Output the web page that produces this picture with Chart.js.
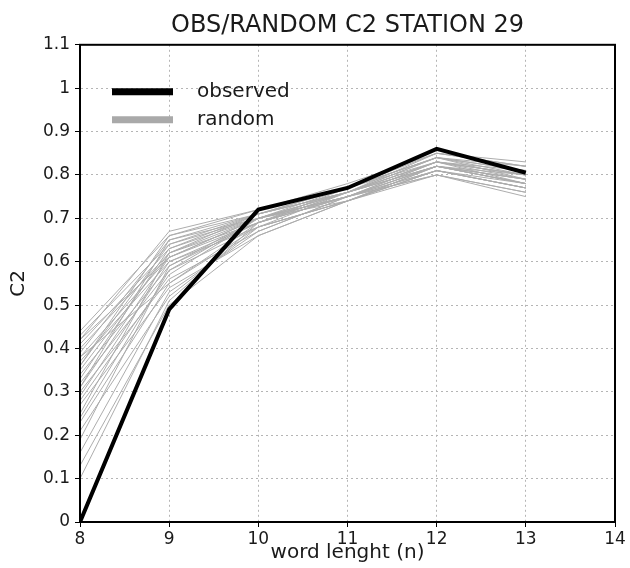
<!DOCTYPE html>
<html>
<head>
<meta charset="utf-8">
<script src="https://cdn.jsdelivr.net/npm/chart.js@4"></script>
<style>
  html, body { margin: 0; padding: 0; background: #fff; }
  #chart { display: block; }
</style>
</head>
<body>
<canvas id="chart" width="630" height="568"></canvas>
<script>
// word length n
const wordLength = [8, 9, 10, 11, 12, 13];

const observed = [0.00, 0.49, 0.72, 0.77, 0.86, 0.805];

// surrogate (random) runs
const randomRuns = [
  [0.44, 0.66, 0.71, 0.77, 0.84, 0.80],
  [0.43, 0.64, 0.70, 0.76, 0.83, 0.79],
  [0.42, 0.67, 0.72, 0.78, 0.85, 0.82],
  [0.41, 0.63, 0.70, 0.75, 0.82, 0.78],
  [0.40, 0.62, 0.69, 0.76, 0.83, 0.81],
  [0.39, 0.65, 0.71, 0.77, 0.84, 0.79],
  [0.38, 0.61, 0.70, 0.75, 0.81, 0.77],
  [0.37, 0.60, 0.68, 0.74, 0.82, 0.78],
  [0.36, 0.64, 0.71, 0.76, 0.85, 0.83],
  [0.35, 0.62, 0.70, 0.77, 0.83, 0.80],
  [0.34, 0.59, 0.69, 0.75, 0.80, 0.76],
  [0.33, 0.63, 0.71, 0.76, 0.84, 0.81],
  [0.32, 0.58, 0.68, 0.74, 0.81, 0.77],
  [0.31, 0.61, 0.70, 0.76, 0.82, 0.79],
  [0.30, 0.56, 0.67, 0.75, 0.83, 0.80],
  [0.29, 0.60, 0.69, 0.77, 0.84, 0.82],
  [0.28, 0.57, 0.70, 0.75, 0.81, 0.78],
  [0.27, 0.54, 0.66, 0.74, 0.80, 0.76],
  [0.25, 0.62, 0.71, 0.76, 0.82, 0.79],
  [0.23, 0.55, 0.69, 0.75, 0.83, 0.78],
  [0.21, 0.52, 0.68, 0.76, 0.82, 0.80],
  [0.19, 0.59, 0.70, 0.74, 0.81, 0.77],
  [0.16, 0.53, 0.67, 0.75, 0.80, 0.75],
  [0.13, 0.50, 0.66, 0.74, 0.82, 0.78],
  [0.10, 0.51, 0.69, 0.76, 0.84, 0.81],
  [0.36, 0.66, 0.72, 0.77, 0.85, 0.82],
  [0.42, 0.61, 0.69, 0.75, 0.82, 0.79],
  [0.31, 0.65, 0.70, 0.76, 0.83, 0.80],
  [0.38, 0.55, 0.68, 0.74, 0.81, 0.77],
  [0.24, 0.58, 0.70, 0.75, 0.82, 0.78]
];

const legendItems = ["observed", "random"];
const FONT = "'DejaVu Sans', sans-serif";
const INK = "#1a1a1a";

const toPoints = ys => ys.map((y, i) => ({ x: wordLength[i], y }));

const datasets = [
  { label: "observed", data: toPoints(observed), borderColor: "#000", borderWidth: 4 },
  ...randomRuns.map(run => ({ label: "random", data: toPoints(run), borderColor: "#adadad", borderWidth: 1 }))
];

// frame round the plot + the in-plot legend
const frameAndLegend = {
  id: "frameAndLegend",
  afterDraw(chart) {
    const { ctx, chartArea: a } = chart;
    ctx.save();
    ctx.strokeStyle = "#000";
    ctx.lineWidth = 2;
    ctx.strokeRect(a.left, a.top, a.right - a.left, a.bottom - a.top);

    const x0 = a.left + 32, x1 = a.left + 93, tx = a.left + 117;
    const rows = [
      { y: a.top + 47, color: "#000" },
      { y: a.top + 75, color: "#a9a9a9" }
    ];
    ctx.font = "20px " + FONT;
    ctx.textBaseline = "middle";
    rows.forEach((r, i) => {
      ctx.strokeStyle = r.color;
      ctx.lineWidth = 7;
      ctx.beginPath();
      ctx.moveTo(x0, r.y);
      ctx.lineTo(x1, r.y);
      ctx.stroke();
      ctx.fillStyle = INK;
      ctx.fillText(legendItems[i], tx, r.y);
    });
    ctx.restore();
  }
};

new Chart(document.getElementById("chart"), {
  type: "line",
  data: { datasets },
  plugins: [frameAndLegend],
  options: {
    responsive: false,
    animation: false,
    layout: { padding: { right: 15 } },
    elements: { point: { radius: 0 }, line: { tension: 0 } },
    plugins: {
      legend: { display: false },
      tooltip: { enabled: false },
      title: {
        display: true,
        fullSize: false,
        text: "OBS/RANDOM C2 STATION 29",
        color: INK,
        font: { family: FONT, size: 24, weight: "normal" },
        padding: { top: 11, bottom: 5 }
      }
    },
    scales: {
      x: {
        type: "linear",
        min: 8,
        max: 14,
        afterFit: s => { s.height = 46; },
        ticks: { stepSize: 1, color: INK, padding: 2, font: { family: FONT, size: 17 } },
        grid: { color: "#b5b5b5", tickColor: "#000", tickLength: 5, lineWidth: 1 },
        border: { color: "#000", width: 2, dash: [2, 3] },
        title: {
          display: true,
          text: "word lenght (n)",
          color: INK,
          font: { family: FONT, size: 20 },
          padding: { top: 0, bottom: 3 }
        }
      },
      y: {
        min: 0,
        max: 1.1,
        afterFit: s => { s.width = 80; },
        ticks: { stepSize: 0.1, color: INK, padding: 5, font: { family: FONT, size: 17 },
                 callback: v => +v.toFixed(1) },
        grid: { color: "#b5b5b5", tickColor: "#000", tickLength: 5, lineWidth: 1 },
        border: { color: "#000", width: 2, dash: [2, 3] },
        title: {
          display: true,
          text: "C2",
          color: INK,
          font: { family: FONT, size: 20 },
          padding: { top: 7, bottom: 0 }
        }
      }
    }
  }
});
</script>
</body>
</html>
